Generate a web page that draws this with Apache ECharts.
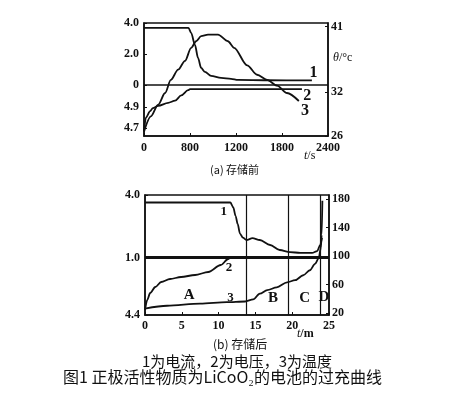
<!DOCTYPE html>
<html>
<head>
<meta charset="utf-8">
<script src="https://cdn.jsdelivr.net/npm/echarts@6/dist/echarts.min.js"></script>
<style>
html, body { margin: 0; padding: 0; background: #fff; }
#main { width: 474px; height: 402px; }
</style>
</head>
<body>
<div id="main"></div>
<script>
// (a) 存储前 : t in s
const tCurA = [0, 580, 615, 665, 705, 745, 795, 875, 1005, 1135, 1225, 1600, 2190]
const curA = [3.68, 3.68, 3.36, 2.58, 1.74, 1.10, 0.84, 0.58, 0.45, 0.39, 0.32, 0.30, 0.29]
const tVolA = [0, 25, 80, 115, 185, 315, 405, 485, 575, 600, 2060]
const volA = [4.67, 4.80, 4.86, 4.89, 4.91, 4.94, 4.96, 5.01, 5.06, 5.07, 5.07]
const tTmpA = [0, 90, 185, 275, 350, 445, 535, 615, 680, 745, 835, 965, 1095, 1175, 1345, 1475, 1605, 1735, 1865, 2020]
const tmpA = [26.6, 28.7, 30.3, 31.9, 33.7, 35.1, 36.3, 38.1, 39.0, 39.7, 39.9, 39.9, 39.0, 38.1, 35.7, 34.4, 33.7, 32.9, 31.9, 30.8]
const xTicksA = [0, 600, 1200, 1800, 2400]
const xLabelsA = ['0', '800', '1200', '1800', '2400']
const curTicksA = [4, 2, 0]
const volTicksA = [4.9, 4.7]
const tmpTicksA = [41, 32, 26]

// (b) 存储后 : t in min
const tCurB = [0, 11.6, 12.0, 12.3, 12.6, 12.9, 13.3, 13.8, 14.6, 15.6, 17.0, 18.3, 19.7, 21.1, 22.7, 23.4, 23.8, 24.05]
const curB = [3.64, 3.64, 3.4, 3.0, 2.6, 2.15, 1.95, 1.84, 1.93, 1.84, 1.60, 1.36, 1.26, 1.22, 1.22, 1.31, 1.60, 1.94]
const tVolB = [0, 0.3, 0.7, 1.4, 2.2, 3.4, 4.9, 6.8, 8.6, 10.3, 11.3, 11.6, 24.0]
const volB = [4.45, 4.55, 4.62, 4.68, 4.73, 4.76, 4.78, 4.80, 4.83, 4.90, 4.96, 4.975, 4.975]
const tTmpB = [0, 3.0, 7.5, 11.1, 13.6, 14.7, 15.6, 16.6, 17.9, 19.3, 20.4, 21.5, 22.4, 23.1, 23.6, 23.9, 24.0, 24.1]
const tmpB = [26, 30, 33, 35, 36, 39, 47, 52, 56, 63, 66, 73, 80, 89, 97, 112, 130, 178]
const xTicksB = [0, 5, 10, 15, 20, 25]
const curTicksB = [4, 1]
const volTicksB = [4.4]
const tmpTicksB = [20, 60, 100, 140, 180]
const stageLines = [13.7, 19.5, 23.8]
const stageNames = ['A', 'B', 'C', 'D']
const stageAt = [[6.0, 45], [17.4, 41], [21.7, 41], [24.3, 42]]

const zip = (xs, ys) => xs.map((x, i) => [x, ys[i]])

const numFont = { fontFamily: 'Liberation Serif', fontSize: 12, fontWeight: 'bold', color: '#111' }
const ink = '#111'

function xAxisOf(grid, min, max, ticks, fmt, margin) {
    return {
        type: 'value', gridIndex: grid, min: min, max: max,
        axisLine: { show: true, onZero: false, lineStyle: { color: ink, width: 1.5 } },
        axisTick: { show: true, inside: true, length: 3, customValues: ticks, lineStyle: { color: ink } },
        axisLabel: Object.assign({ customValues: ticks, formatter: fmt, margin: margin }, numFont),
        splitLine: { show: false }
    }
}

function yAxisOf(grid, pos, min, max, ticks, fmt, showLine) {
    return {
        type: 'value', gridIndex: grid, position: pos, min: min, max: max,
        axisLine: { show: showLine, onZero: false, lineStyle: { color: ink, width: 1.5 } },
        axisTick: { show: true, inside: true, length: 3, customValues: ticks, lineStyle: { color: ink } },
        axisLabel: Object.assign({ customValues: ticks, formatter: fmt, margin: pos === 'left' ? 5 : 3 }, numFont),
        splitLine: { show: false }
    }
}

function curve(xi, yi, data, extra) {
    return Object.assign({
        type: 'line', xAxisIndex: xi, yAxisIndex: yi, data: data,
        showSymbol: false, smooth: 0.3, smoothMonotone: 'x',
        lineStyle: { color: ink, width: 1.8 }, silent: true
    }, extra || {})
}

function tag(name, coord, size) {
    return {
        coord: coord, symbol: 'circle', symbolSize: 1, itemStyle: { color: 'rgba(0,0,0,0)' },
        label: { show: true, position: 'inside', formatter: name, fontFamily: 'Liberation Serif', fontWeight: 'bold', fontSize: size, color: ink }
    }
}

const markPts = (list) => ({ silent: true, data: list })
const hLine = (v, w) => ({ silent: true, symbol: ['none', 'none'], label: { show: false }, lineStyle: { color: ink, width: w, type: 'solid' }, data: [{ yAxis: v }] })

const chart = echarts.init(document.getElementById('main'), null, { renderer: 'canvas' })

const option = {
    backgroundColor: '#fff',
    animation: false,
    grid: [
        { left: 144, top: 23, width: 184, height: 113, show: true, borderColor: ink, borderWidth: 1.5 },
        { left: 145, top: 195, width: 184, height: 120, show: true, borderColor: ink, borderWidth: 1.5 }
    ],
    xAxis: [
        xAxisOf(0, 0, 2400, xTicksA, v => xLabelsA[xTicksA.indexOf(v)], 6),
        xAxisOf(1, 0, 25, xTicksB, v => String(v), 5)
    ],
    yAxis: [
        yAxisOf(0, 'left', -3.3, 4.0, curTicksA, v => (v === 0 ? '0' : v.toFixed(1)), true),
        yAxisOf(0, 'left', 4.624, 5.70, volTicksA, v => v.toFixed(1), false),
        yAxisOf(0, 'right', 26, 41.5, tmpTicksA, v => String(v), true),
        yAxisOf(1, 'left', -1.76, 4.0, curTicksB, v => v.toFixed(1), true),
        yAxisOf(1, 'left', 4.4, 5.6, volTicksB, v => v.toFixed(1), false),
        yAxisOf(1, 'right', 17, 186, tmpTicksB, v => String(v), true)
    ],
    series: [
        curve(0, 0, zip(tCurA, curA), { markLine: hLine(0, 1.5), markPoint: markPts([tag('1', [2210, 0.8], 16)]) }),
        curve(0, 1, zip(tVolA, volA), { markPoint: markPts([tag('2', [2130, 5.01], 16)]) }),
        curve(0, 2, zip(tTmpA, tmpA), { markPoint: markPts([tag('3', [2100, 29.5], 16)]) }),
        curve(1, 3, zip(tCurB, curB), { markLine: hLine(1.0, 3), markPoint: markPts([tag('1', [10.7, 3.18], 13)]) }),
        curve(1, 4, zip(tVolB, volB), {
            markLine: {
                silent: true, symbol: ['none', 'none'], label: { show: false },
                lineStyle: { color: ink, width: 1.2, type: 'solid' },
                data: stageLines.map(v => ({ xAxis: v }))
            },
            markPoint: markPts([tag('2', [11.4, 4.87], 13)])
        }),
        curve(1, 5, zip(tTmpB, tmpB), {
            markPoint: markPts([tag('3', [11.6, 42], 13)].concat(stageNames.map((s, i) => tag(s, stageAt[i], 15))))
        })
    ],
    graphic: [
        { type: 'text', left: 304, top: 150, style: { text: '{i|t}/s', rich: { i: { fontStyle: 'italic', fontFamily: 'Liberation Serif', fontSize: 12 } }, font: '12px "Liberation Serif"', fill: ink } },
        { type: 'text', left: 333, top: 52, style: { text: '{i|θ}/°c', rich: { i: { fontStyle: 'italic', fontFamily: 'Liberation Serif', fontSize: 12 } }, font: '12px "Liberation Serif"', fill: ink } },
        { type: 'text', left: 210, top: 164, style: { text: '(a) 存储前', font: '11px "Noto Sans CJK SC"', fill: ink } },
        { type: 'text', left: 297, top: 328, style: { text: '{i|t}/m', rich: { i: { fontStyle: 'italic', fontFamily: 'Liberation Serif', fontSize: 12 } }, font: 'bold 12px "Liberation Serif"', fill: ink } },
        { type: 'text', left: 213, top: 338, style: { text: '(b) 存储后', font: '12px "Noto Sans CJK SC"', fill: ink } },
        { type: 'text', left: 142, top: 354, style: { text: '1为电流，2为电压，3为温度', font: '15px "Noto Sans CJK SC"', fill: ink } },
        { type: 'text', left: 63, top: 369, style: { text: '图1 正极活性物质为LiCoO₂的电池的过充曲线', font: '16px "Noto Sans CJK SC"', fill: ink } }
    ]
}

chart.setOption(option)
</script>
</body>
</html>
